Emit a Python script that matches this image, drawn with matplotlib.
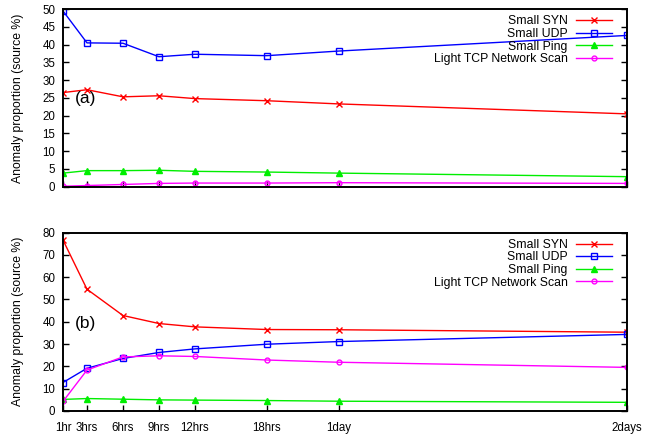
import numpy as np
import matplotlib.pyplot as plt

plt.rcParams['font.family'] = ['Liberation Sans', 'DejaVu Sans']

# x positions in hours
hours = [1, 3, 6, 9, 12, 18, 24, 48]
tick_labels = ["1hr", "3hrs", "6hrs", "9hrs", "12hrs", "18hrs", "1day", "2days"]

# panel (a)
syn_a = [26.5, 27.3, 25.3, 25.6, 24.8, 24.2, 23.3, 20.5]
udp_a = [49.5, 40.5, 40.4, 36.6, 37.3, 36.9, 38.2, 42.6]
ping_a = [3.8, 4.5, 4.5, 4.6, 4.3, 4.1, 3.8, 2.8]
tcp_a = [0.1, 0.3, 0.6, 0.9, 1.0, 1.0, 1.1, 0.9]

# panel (b)
syn_b = [76.7, 54.6, 42.8, 39.2, 37.7, 36.5, 36.4, 35.3]
udp_b = [12.7, 19.1, 23.5, 26.2, 27.8, 29.9, 31.1, 34.3]
ping_b = [5.1, 5.5, 5.2, 4.9, 4.8, 4.6, 4.3, 3.8]
tcp_b = [4.2, 18.3, 24.2, 24.7, 24.4, 22.8, 21.8, 19.5]

names = ["Small SYN", "Small UDP", "Small Ping", "Light TCP Network Scan"]
colors = ["#ff0000", "#0000ff", "#00ee00", "#ff00ff"]
styles = [dict(marker='x', ms=5, mew=1.0),
          dict(marker='s', ms=5, mfc='none', mew=1.0),
          dict(marker='^', ms=4.5, mew=1.0),
          dict(marker='o', ms=3.5, mfc='none', mew=1.0)]

fig = plt.figure(figsize=(6.59, 4.37), dpi=100)
ax1 = fig.add_axes([0.0956, 0.573, 0.8554, 0.406])
ax2 = fig.add_axes([0.0956, 0.060, 0.8554, 0.4075])

panels = [(ax1, [syn_a, udp_a, ping_a, tcp_a], 50, 5, "(a)", 24.7),
          (ax2, [syn_b, udp_b, ping_b, tcp_b], 80, 10, "(b)", 39.4)]

for ax, series, ymax, ystep, tag, tag_y in panels:
    for vals, name, c, st in zip(series, names, colors, styles):
        ax.plot(hours, vals, color=c, lw=1.0, label=name, **st)
    ax.set_xlim(1, 48)
    ax.set_ylim(0, ymax)
    ax.set_yticks(np.arange(0, ymax + 1, ystep))
    ax.set_xticks(hours)
    ax.tick_params(axis='y', direction='in', right=True, labelsize=8.3,
                   length=4, width=1, pad=5.5)
    ax.tick_params(axis='x', direction='in', top=False, labelsize=8.3,
                   length=4, width=1, pad=8)
    for s in ax.spines.values():
        s.set_linewidth(1.4)
    ax.set_ylabel("Anomaly proportion (source %)", fontsize=8.8)
    ax.yaxis.set_label_coords(-0.069, 0.5)
    ax.text(2.85, tag_y, tag, fontsize=12.5, ha='center', va='center')
    ax.legend(loc='upper right', bbox_to_anchor=(0.984, 1.0), frameon=False,
              markerfirst=False, fontsize=8.8, handlelength=2.9,
              labelspacing=0.05, borderaxespad=0.3, handletextpad=0.7,
              borderpad=0.2)

ax1.set_xticklabels([])
ax2.set_xticklabels(tick_labels)

fig.savefig("out.png", dpi=100)
